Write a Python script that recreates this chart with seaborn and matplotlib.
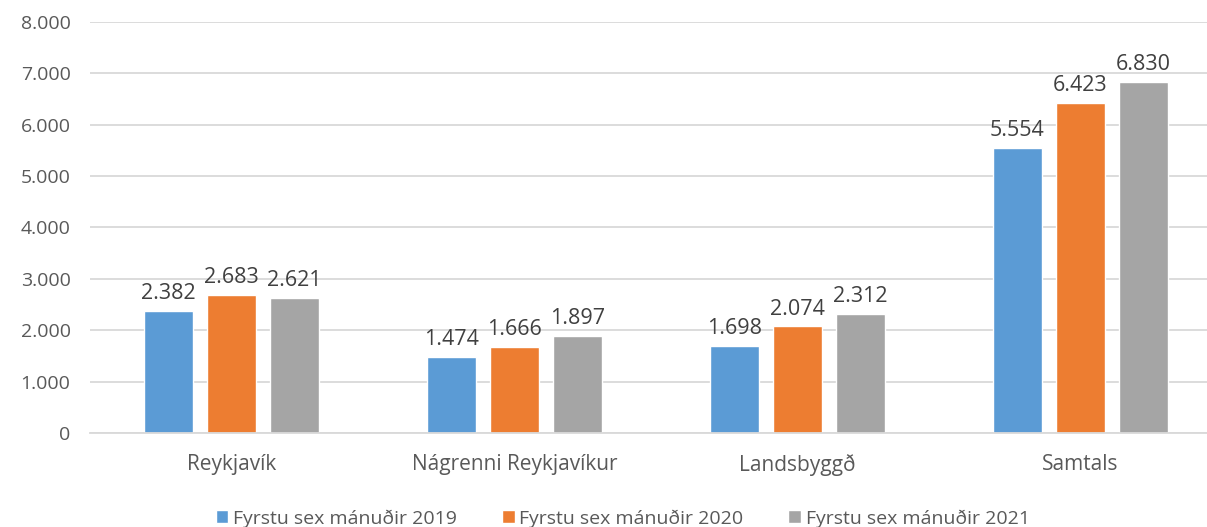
import pandas as pd
import numpy as np
import matplotlib.pyplot as plt
import seaborn as sns

# data
categories = ['Reykjavík', 'Nágrenni Reykjavíkur', 'Landsbyggð', 'Samtals']
series_names = ['Fyrstu sex mánuðir 2019', 'Fyrstu sex mánuðir 2020', 'Fyrstu sex mánuðir 2021']
vals_2019 = [2382, 1474, 1698, 5554]
vals_2020 = [2683, 1666, 2074, 6423]
vals_2021 = [2621, 1897, 2312, 6830]
y_ticks = [0, 1000, 2000, 3000, 4000, 5000, 6000, 7000, 8000]
colors = ['#5B9BD5', '#ED7D31', '#A5A5A5']

df = pd.DataFrame({
    'flokkur': categories * 3,
    'tímabil': [series_names[0]] * 4 + [series_names[1]] * 4 + [series_names[2]] * 4,
    'fjöldi': vals_2019 + vals_2020 + vals_2021,
})

def fmt(v):
    return f'{int(v):,}'.replace(',', '.')

sns.set_style('white')
plt.rcParams['font.family'] = ['Open Sans', 'DejaVu Sans']

fig, ax = plt.subplots(figsize=(12.07, 5.27), dpi=100)
# plot area runs a little past the right edge, as in the cropped original
fig.subplots_adjust(left=90 / 1207, right=1222 / 1207, top=1 - 22 / 527, bottom=94 / 527)

sns.barplot(data=df, x='flokkur', y='fjöldi', hue='tímabil', palette=colors,
            width=0.668, gap=0.22, saturation=1, ax=ax, legend=True)

for cont in ax.containers:
    ax.bar_label(cont, labels=[fmt(v) for v in cont.datavalues], padding=5,
                 fontsize=15.5, color='#404040')

ax.set_ylim(0, 8000)
ax.set_yticks(y_ticks)
ax.set_yticklabels([fmt(t) for t in y_ticks], fontsize=14, color='#595959')
ax.tick_params(axis='x', labelsize=15, colors='#595959', length=0, pad=15)
ax.tick_params(axis='y', length=0, pad=14)
ax.yaxis.grid(True, color='#D9D9D9', linewidth=1.3)
ax.set_axisbelow(True)
ax.set_xlabel('')
ax.set_ylabel('')
for s in ['top', 'right', 'left']:
    ax.spines[s].set_visible(False)
ax.spines['bottom'].set_color('#D9D9D9')
ax.spines['bottom'].set_linewidth(1.3)

handles, labels = ax.get_legend_handles_labels()
ax.legend_.remove()
fig.legend(handles, labels, loc='center', bbox_to_anchor=(0.516, 0.016),
           ncol=3, frameon=False, fontsize=14, handlelength=0.65, handleheight=0.65,
           columnspacing=2.3, handletextpad=0.25, labelcolor='#595959',
           borderpad=0, borderaxespad=0)

fig.savefig('out.png', dpi=100)
